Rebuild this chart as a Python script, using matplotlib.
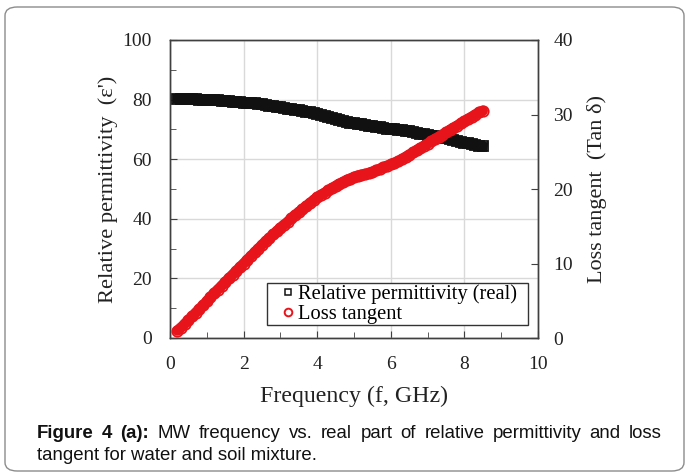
import numpy as np
import matplotlib
matplotlib.use("Agg")
import matplotlib.pyplot as plt
from matplotlib.patches import FancyBboxPatch, Rectangle
from matplotlib.ticker import MultipleLocator
from matplotlib.lines import Line2D

freq = np.round(np.arange(0.2, 8.55, 0.1), 2)

permittivity = [
    80.3, 80.3, 80.2, 80.2, 80.1, 80.1, 80.0, 80.0, 79.9, 79.9,
    79.8, 79.7, 79.6, 79.5, 79.4, 79.3, 79.2, 79.1, 79.0, 78.9,
    78.8, 78.7, 78.5, 78.4, 78.2, 78.0, 77.8, 77.6, 77.4, 77.2,
    77.0, 76.8, 76.6, 76.4, 76.2, 75.9, 75.7, 75.4, 75.1, 74.8,
    74.5, 74.2, 73.9, 73.6, 73.2, 72.9, 72.6, 72.3, 72.1, 71.9,
    71.7, 71.5, 71.3, 71.1, 70.9, 70.7, 70.5, 70.3, 70.2, 70.0,
    69.9, 69.7, 69.5, 69.3, 69.1, 68.8, 68.6, 68.3, 68.1, 67.9,
    67.7, 67.4, 67.2, 67.0, 66.7, 66.4, 66.1, 65.9, 65.6, 65.3,
    65.0, 64.8, 64.5, 64.3,
]

loss_tangent = [
    1.0, 1.4, 1.9, 2.4, 2.9, 3.4, 3.9, 4.4, 4.9, 5.5,
    6.0, 6.5, 7.0, 7.5, 8.0, 8.5, 9.0, 9.5, 10.0, 10.5,
    11.0, 11.5, 12.0, 12.5, 13.0, 13.4, 13.9, 14.3, 14.8, 15.2,
    15.6, 16.1, 16.5, 16.9, 17.3, 17.7, 18.1, 18.5, 18.9, 19.2,
    19.5, 19.8, 20.1, 20.4, 20.7, 20.9, 21.2, 21.4, 21.6, 21.8,
    21.9, 22.0, 22.1, 22.3, 22.5, 22.7, 22.9, 23.1, 23.3, 23.5,
    23.7, 24.0, 24.3, 24.6, 24.9, 25.2, 25.5, 25.8, 26.1, 26.4,
    26.7, 27.0, 27.3, 27.6, 27.9, 28.2, 28.5, 28.8, 29.1, 29.4,
    29.7, 30.0, 30.3, 30.5,
]

legend_labels = ["Relative permittivity (real)", "Loss tangent"]
caption_bold = "Figure 4 (a):"
caption_line1 = "MW frequency vs. real part of relative permittivity and loss"
caption_line2 = "tangent for water and soil mixture."

serif = "Liberation Serif"
sans = "Liberation Sans"
W, H = 687, 475

fig = plt.figure(figsize=(W / 100, H / 100), dpi=100)
fig.patch.set_facecolor("white")

border = FancyBboxPatch((5 / W, 4 / H), 679 / W, 464 / H,
                        boxstyle="round,pad=0,rounding_size=0.018",
                        transform=fig.transFigure, fill=False,
                        edgecolor="#8c8c8c", linewidth=1.0)
fig.patches.append(border)

ax = fig.add_axes([170 / W, 1 - 338 / H, 368 / W, 298 / H])
ax2 = ax.twinx()

black = "#111111"
red = "#e8141b"

ax.plot(freq, permittivity, color=black, lw=7, solid_capstyle="projecting", zorder=2)
ax2.plot(freq, loss_tangent, color=red, lw=7.5, solid_capstyle="round", zorder=2)
ax.plot(freq, permittivity, ls="none", marker="s", ms=7, mfc="none",
        mec=black, mew=1.3, zorder=3)
ax2.plot(freq, loss_tangent, ls="none", marker="o", ms=7.5, mfc="none",
         mec=red, mew=1.3, zorder=3)

ax.set_xlim(0, 10)
ax.set_ylim(0, 100)
ax2.set_ylim(0, 40)
ax.xaxis.set_major_locator(MultipleLocator(2))
ax.xaxis.set_minor_locator(MultipleLocator(1))
ax.yaxis.set_major_locator(MultipleLocator(20))
ax.yaxis.set_minor_locator(MultipleLocator(10))
ax2.yaxis.set_major_locator(MultipleLocator(10))

ax.grid(True, which="major", color="#d9d9d9", lw=1.0)
ax.set_axisbelow(True)

for a in (ax, ax2):
    for s in a.spines.values():
        s.set_color("#404040")
        s.set_linewidth(1.0)
    a.tick_params(which="both", direction="in", colors="#404040",
                  labelcolor="#222222", labelsize=14)
    a.tick_params(which="major", length=5)
    a.tick_params(which="minor", length=4)
    for lab in a.get_xticklabels() + a.get_yticklabels():
        lab.set_fontfamily(serif)

ax.tick_params(axis="x", pad=13)
ax.tick_params(axis="y", pad=13)
ax2.tick_params(axis="y", pad=11)

ax.set_xlabel("Frequency (f, GHz)", fontfamily=serif, fontsize=17.2,
              color="#222222", labelpad=9)
ax.set_ylabel("Relative permittivity  (ε')", fontfamily=serif, fontsize=16.2,
              color="#222222", labelpad=3)
ax2.set_ylabel("Loss tangent  (Tan δ)", fontfamily=serif, fontsize=16,
               color="#222222", labelpad=10)

# legend frame drawn as a patch, legend content without own frame
fx0, fx1 = (267 - 170) / 368, (528 - 170) / 368
fy0, fy1 = (338 - 325) / 298, (338 - 283) / 298
frame = Rectangle((fx0, fy0), fx1 - fx0, fy1 - fy0, transform=ax2.transAxes,
                  facecolor="white", edgecolor="#333333", lw=1.0, zorder=4)
ax2.add_patch(frame)

handles = [
    Line2D([], [], ls="none", marker="s", ms=5, mfc="none", mec=black, mew=1.1),
    Line2D([], [], ls="none", marker="o", ms=5.5, mfc="none", mec=red, mew=1.4),
]
leg = ax2.legend(handles, legend_labels,
                 loc="center left", bbox_to_anchor=(fx0, (fy0 + fy1) / 2),
                 prop={"family": serif, "size": 14.8}, frameon=False,
                 handlelength=1.8, handletextpad=-0.4,
                 borderpad=0.12, labelspacing=0.02, borderaxespad=0)
leg.set_zorder(5)

# caption, first line justified
cap_size = 13.4
x_left, x_right = 37, 662
y1, y2 = 1 - 433 / H, 1 - 456 / H
fig.canvas.draw()
renderer = fig.canvas.get_renderer()
words = [(w, "bold") for w in caption_bold.split()] + \
        [(w, "normal") for w in caption_line1.split()]
texts = []
widths = []
for w, wt in words:
    t = fig.text(0, y1, w, fontfamily=sans, fontweight=wt, fontsize=cap_size,
                 color="#111111", va="center")
    texts.append(t)
    widths.append(t.get_window_extent(renderer).width)
gap = ((x_right - x_left) - sum(widths)) / (len(words) - 1)
xpos = x_left
for t, wdt in zip(texts, widths):
    t.set_x(xpos / W)
    xpos += wdt + gap
fig.text(x_left / W, y2, caption_line2, fontfamily=sans,
         fontsize=cap_size, color="#111111", va="center")

fig.savefig("out.png", dpi=100)
